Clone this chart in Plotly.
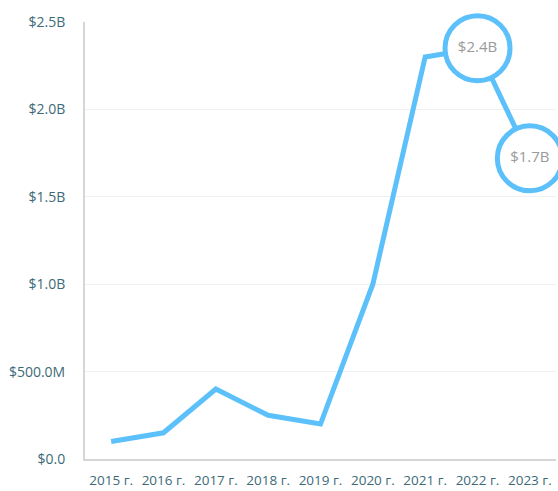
import plotly.graph_objects as go

years = ["2015 г.", "2016 г.", "2017 г.", "2018 г.", "2019 г.", "2020 г.", "2021 г.", "2022 г.", "2023 г."]
values = [0.10e9, 0.15e9, 0.40e9, 0.25e9, 0.20e9, 1.00e9, 2.30e9, 2.35e9, 1.72e9]
label_years = ["2022 г.", "2023 г."]
label_values = [2.35e9, 1.72e9]
label_texts = ["$2.4B", "$1.7B"]
ytick_vals = [0, 0.5e9, 1.0e9, 1.5e9, 2.0e9, 2.5e9]
ytick_text = ["$0.0", "$500.0M", "$1.0B", "$1.5B", "$2.0B", "$2.5B"]

line_color = "#5cc0fb"
tick_color = "#3d6a78"
font_family = "Open Sans"

fig = go.Figure()
fig.add_trace(go.Scatter(
    x=years, y=values, mode="lines",
    line=dict(color=line_color, width=5),
    hoverinfo="skip", showlegend=False,
))
fig.add_trace(go.Scatter(
    x=label_years, y=label_values, mode="markers+text",
    text=label_texts, textposition="middle center",
    textfont=dict(color="#9a9a9a", size=15, family=font_family),
    marker=dict(size=65, color="white", line=dict(color=line_color, width=5)),
    cliponaxis=False, showlegend=False,
))

fig.update_layout(
    width=558, height=491,
    margin=dict(l=85, r=2, t=22, b=32),
    paper_bgcolor="white", plot_bgcolor="white",
    font=dict(family=font_family, color=tick_color),
    xaxis=dict(
        type="category", range=[-0.5, 8.5],
        showgrid=False, showline=True, linecolor="#d6d6d6", linewidth=2,
        ticks="", tickfont=dict(size=13.5, color=tick_color),
        ticklabelstandoff=8,
    ),
    yaxis=dict(
        range=[0, 2.5e9], tickvals=ytick_vals, ticktext=ytick_text,
        showgrid=True, gridcolor="#f0f0f0", gridwidth=1,
        showline=True, linecolor="#d6d6d6", linewidth=2,
        zeroline=False, ticks="", tickfont=dict(size=14, color=tick_color),
        ticklabelstandoff=15,
    ),
)

fig.write_html("out.html", config={"displayModeBar": False})
with open("out.html", "r", encoding="utf-8") as f:
    html = f.read()
html = html.replace("<head>", "<head><style>html,body{margin:0;padding:0;overflow:hidden;}</style>", 1)
with open("out.html", "w", encoding="utf-8") as f:
    f.write(html)
